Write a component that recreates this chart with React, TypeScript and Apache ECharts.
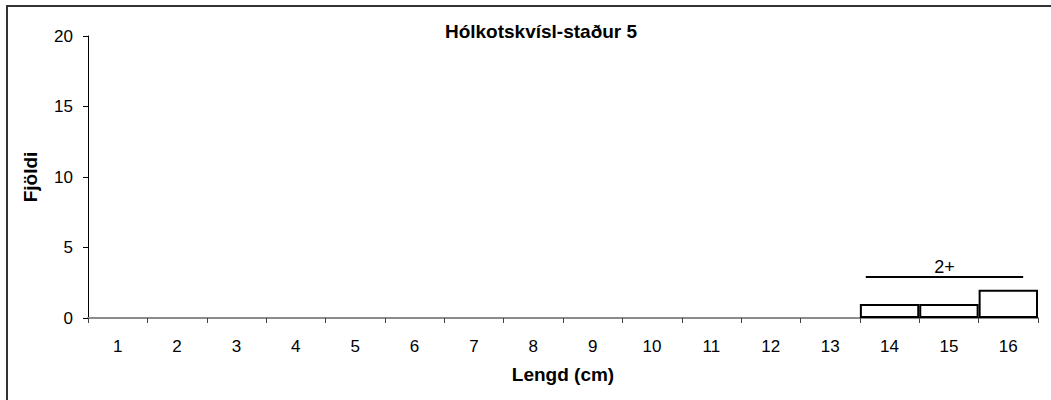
import React, { useEffect, useRef } from "react";
import * as echarts from "echarts";

const chartTitle = "Hólkotskvísl-staður 5";
const xAxisTitle = "Lengd (cm)";
const yAxisTitle = "Fjöldi";
const categories = ["1", "2", "3", "4", "5", "6", "7", "8", "9", "10", "11", "12", "13", "14", "15", "16"];
const counts = [0, 0, 0, 0, 0, 0, 0, 0, 0, 0, 0, 0, 0, 1, 1, 2];
const yMin = 0;
const yMax = 20;
const yInterval = 5;
const ageGroupLabel = "2+";
const ageGroupFrom = "14";
const ageGroupTo = "16";
const ageGroupLevel = 2.9;

const FONT = "'Liberation Sans', Arial, sans-serif";

export default function App() {
  const ref = useRef<HTMLDivElement>(null);
  useEffect(() => {
    if (!ref.current) return;
    const chart = echarts.init(ref.current, null, { renderer: "svg" });
    chart.setOption({
      animation: false,
      backgroundColor: "#fff",
      textStyle: { fontFamily: FONT },
      grid: { left: 88, right: 13, top: 36, bottom: 82, containLabel: false },
      xAxis: {
        type: "category",
        data: categories,
        boundaryGap: true,
        name: xAxisTitle,
        nameLocation: "middle",
        nameGap: 47,
        nameTextStyle: { fontFamily: FONT, fontSize: 19, fontWeight: "bold", color: "#000" },
        axisLine: { show: true, lineStyle: { color: "#8c8c8c", width: 2 } },
        axisTick: { show: true, alignWithLabel: false, length: 5, lineStyle: { color: "#444" } },
        axisLabel: { fontFamily: FONT, fontSize: 17, color: "#000", margin: 20 },
        splitLine: { show: false },
      },
      yAxis: {
        type: "value",
        min: yMin,
        max: yMax,
        interval: yInterval,
        name: yAxisTitle,
        nameLocation: "middle",
        nameRotate: 90,
        nameGap: 48,
        nameTextStyle: { fontFamily: FONT, fontSize: 19, fontWeight: "bold", color: "#000" },
        axisLine: { show: true, lineStyle: { color: "#000", width: 1 } },
        axisTick: { show: true, length: 5, lineStyle: { color: "#000" } },
        axisLabel: { fontFamily: FONT, fontSize: 17, color: "#000", margin: 15 },
        splitLine: { show: false },
      },
      series: [
        {
          type: "bar",
          barCategoryGap: "0%",
          data: counts.map((v) => ({
            value: v,
            itemStyle: v === 0 ? { borderWidth: 0, color: "transparent" } : undefined,
          })),
          itemStyle: { color: "#fff", borderColor: "#000", borderWidth: 2 },
        },
      ],
    });

    const xa = chart.convertToPixel({ xAxisIndex: 0 }, ageGroupFrom) as number;
    const xb = chart.convertToPixel({ xAxisIndex: 0 }, ageGroupTo) as number;
    const band = (xb - xa) / (categories.indexOf(ageGroupTo) - categories.indexOf(ageGroupFrom));
    const y = chart.convertToPixel({ yAxisIndex: 0 }, ageGroupLevel) as number;
    const x1 = xa - band * 0.4;
    const x2 = xb + band * 0.25;

    chart.setOption({
      title: {
        text: chartTitle,
        left: 536,
        top: 17,
        textAlign: "center",
        textStyle: { fontFamily: FONT, fontSize: 19, fontWeight: "bold", color: "#000" },
      },
      graphic: [
        {
          type: "rect",
          shape: { x: 7, y: 6, width: 1100, height: 500 },
          style: { fill: "none", stroke: "#333", lineWidth: 2 },
          silent: true,
        },
        {
          type: "line",
          shape: { x1, y1: y, x2, y2: y },
          style: { stroke: "#000", lineWidth: 2 },
        },
        {
          type: "text",
          x: (x1 + x2) / 2,
          y: y - 1,
          style: {
            text: ageGroupLabel,
            fontFamily: FONT,
            fontSize: 18,
            fill: "#000",
            align: "center",
            verticalAlign: "bottom",
          },
        },
      ],
    });

    return () => chart.dispose();
  }, []);
  return (
    <div
      ref={ref}
      style={{ position: "absolute", left: 0, top: 0, width: 1051, height: 400 }}
    />
  );
}
